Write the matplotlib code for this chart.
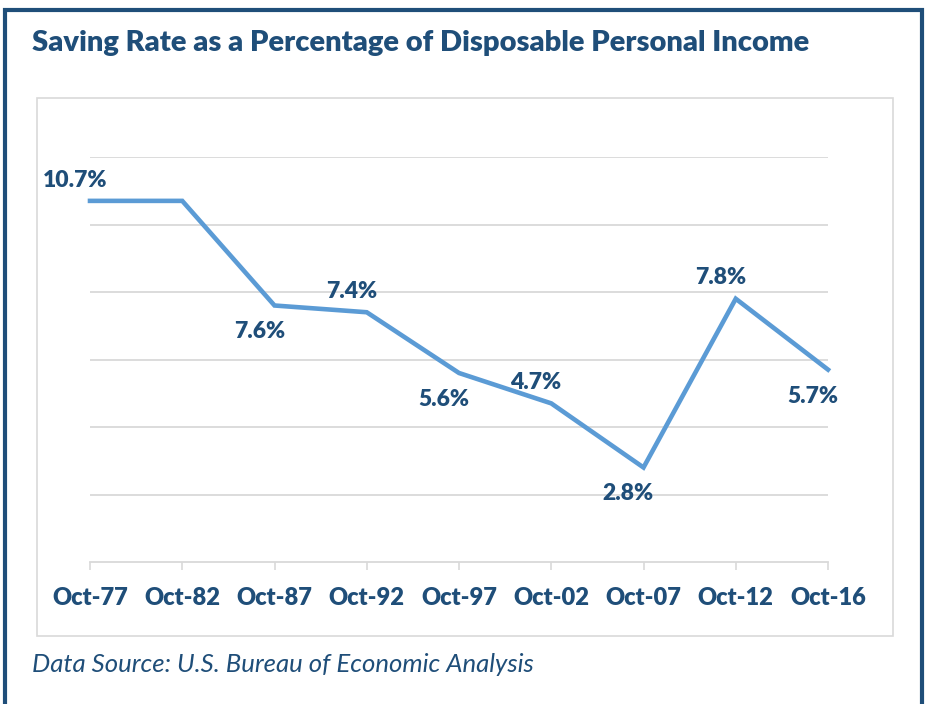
"""saving rate chart"""

import matplotlib
matplotlib.use('Agg')
from matplotlib import pyplot as plt
from matplotlib.patches import Rectangle

dates = ["Oct-77", "Oct-82", "Oct-87", "Oct-92", "Oct-97", "Oct-02", "Oct-07", "Oct-12", "Oct-16"]
rates = [10.7, 10.7, 7.6, 7.4, 5.6, 4.7, 2.8, 7.8, 5.7]
# which points get a label and where it sits (Oct-82 has none)
show_label = [True, False, True, True, True, True, True, True, True]
label_side = ["up", None, "down", "up", "down", "up", "down", "up", "down"]

navy = "#1f4e79"
line_blue = "#5b9bd5"
grid_grey = "#d9d9d9"

plt.rcParams['font.family'] = ['Lato', 'DejaVu Sans']

fig = plt.figure(figsize=(9.25, 7.04), dpi=100)

# outer dark frame and the inner chart box
fig.patches.append(Rectangle((5 / 925, -0.05), 917 / 925, 1 - 10 / 704 + 0.05,
                             transform=fig.transFigure, fill=False,
                             edgecolor=navy, linewidth=3, zorder=0))
fig.patches.append(Rectangle((37 / 925, 1 - 636 / 704), 856 / 925, 538 / 704,
                             transform=fig.transFigure, fill=False,
                             edgecolor=grid_grey, linewidth=1.2, zorder=0))

fig.text(32 / 925, 1 - 43 / 704, "Saving Rate as a Percentage of Disposable Personal Income",
         fontsize=21, fontweight="heavy", color=navy, va="center", ha="left")
fig.text(32 / 925, 1 - 665 / 704, "Data Source: U.S. Bureau of Economic Analysis",
         fontsize=18.5, fontstyle="italic", color=navy, va="center", ha="left")

ax = fig.add_axes([90 / 925, 1 - 562 / 704, 738 / 925, 405 / 704])
x = list(range(len(dates)))
ax.plot(x, rates, color=line_blue, linewidth=3.3, clip_on=False, zorder=3,
        solid_joinstyle="miter")

for i, v in enumerate(rates):
    if not show_label[i]:
        continue
    dy = 15 if label_side[i] == "up" else -19
    ax.annotate(f"{v:.1f}%", (i, v), xytext=(-11, dy), textcoords="offset points",
                ha="center", va="center", fontsize=16.5, fontweight="heavy", color=navy)

ax.set_xlim(0, len(dates) - 1)
ax.set_ylim(0, 12)
ax.set_yticks([2, 4, 6, 8, 10, 12])
ax.yaxis.grid(True, color=grid_grey, linewidth=1.3)
ax.tick_params(axis="y", left=False, labelleft=False)
ax.set_xticks(x)
ax.set_xticklabels(dates, fontsize=17, fontweight="heavy", color=navy)
ax.tick_params(axis="x", direction="out", length=6, width=1.2, color=grid_grey, pad=12)
for s in ["top", "right", "left"]:
    ax.spines[s].set_visible(False)
ax.spines["bottom"].set_color(grid_grey)
ax.spines["bottom"].set_linewidth(1.3)
ax.set_axisbelow(True)

plt.savefig("out.png", dpi=100)
